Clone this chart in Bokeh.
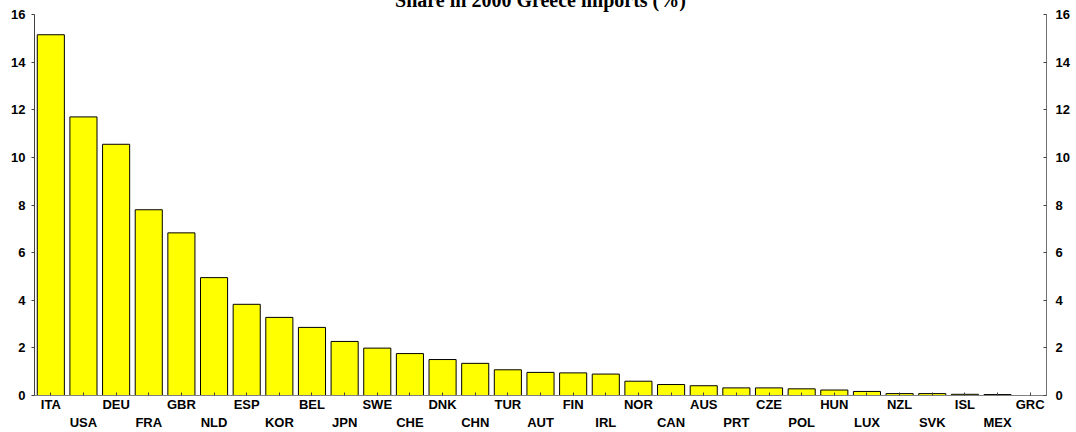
from bokeh.plotting import figure
from bokeh.models import Range1d, LinearAxis, FixedTicker, ColumnDataSource
from bokeh.embed import file_html
from bokeh.resources import INLINE

title = "Share in 2000 Greece imports (%)"
countries = ["ITA", "USA", "DEU", "FRA", "GBR", "NLD", "ESP", "KOR", "BEL", "JPN",
             "SWE", "CHE", "DNK", "CHN", "TUR", "AUT", "FIN", "IRL", "NOR", "CAN",
             "AUS", "PRT", "CZE", "POL", "HUN", "LUX", "NZL", "SVK", "ISL", "MEX", "GRC"]
shares = [15.15, 11.70, 10.55, 7.80, 6.83, 4.95, 3.83, 3.28, 2.86, 2.27,
          1.99, 1.76, 1.51, 1.35, 1.08, 0.97, 0.95, 0.90, 0.60, 0.46,
          0.41, 0.32, 0.32, 0.28, 0.23, 0.17, 0.08, 0.08, 0.05, 0.04, 0.0]
y_ticks = [0, 2, 4, 6, 8, 10, 12, 14, 16]

pos = list(range(len(countries)))
src = ColumnDataSource(dict(x=pos, share=shares, name=countries))

p = figure(width=1064, height=450, output_backend="svg", toolbar_location=None,
           x_range=Range1d(-0.5, len(countries) - 0.5), y_range=Range1d(0, 16),
           x_axis_location=None, y_axis_location=None, title=title,
           min_border_top=27, min_border_bottom=36, min_border_left=26, min_border_right=24)
p.styles = {"position": "absolute", "top": "-18px", "left": "8px"}
p.outline_line_color = None
p.xgrid.visible = False
p.ygrid.visible = False
p.background_fill_color = "white"
p.border_fill_color = "white"

p.title.align = "center"
p.title.text_font = "Liberation Serif"
p.title.text_font_style = "bold"
p.title.text_font_size = "20px"
p.title.text_color = "#000000"
p.title.standoff = 8

p.vbar(x="x", top="share", width=0.83, bottom=0, source=src,
       fill_color="#FFFF00", line_color="#000000", line_width=1)

FONT = "Liberation Sans"

def style_axis(ax, standoff, tin=3, tout=0):
    ax.major_label_text_font = FONT
    ax.major_label_text_font_style = "bold"
    ax.major_label_text_font_size = "13px"
    ax.major_label_text_color = "#000000"
    ax.axis_line_color = "#707070"
    ax.major_tick_line_color = "#404040"
    ax.major_tick_in = tin
    ax.major_tick_out = tout
    ax.minor_tick_line_color = None
    ax.major_label_standoff = standoff

ayl = LinearAxis(ticker=FixedTicker(ticks=y_ticks))
style_axis(ayl, 6, tin=0, tout=3)
ayl.axis_line_color = "#404040"
p.add_layout(ayl, "left")

ayr = LinearAxis(ticker=FixedTicker(ticks=y_ticks))
style_axis(ayr, 9, tin=3, tout=0)
p.add_layout(ayr, "right")

row1 = {i: (c if i % 2 == 0 else "") for i, c in enumerate(countries)}
row2 = {i: (c if i % 2 == 1 else "") for i, c in enumerate(countries)}

ax1 = LinearAxis(ticker=FixedTicker(ticks=pos), major_label_overrides=row1)
style_axis(ax1, 1)
ax1.axis_line_color = "#808080"
p.add_layout(ax1, "below")

ax2 = LinearAxis(ticker=FixedTicker(ticks=pos), major_label_overrides=row2)
style_axis(ax2, 0)
ax2.axis_line_color = None
ax2.major_tick_line_color = None
p.add_layout(ax2, "below")

open("out.html", "w").write(file_html(p, INLINE))
